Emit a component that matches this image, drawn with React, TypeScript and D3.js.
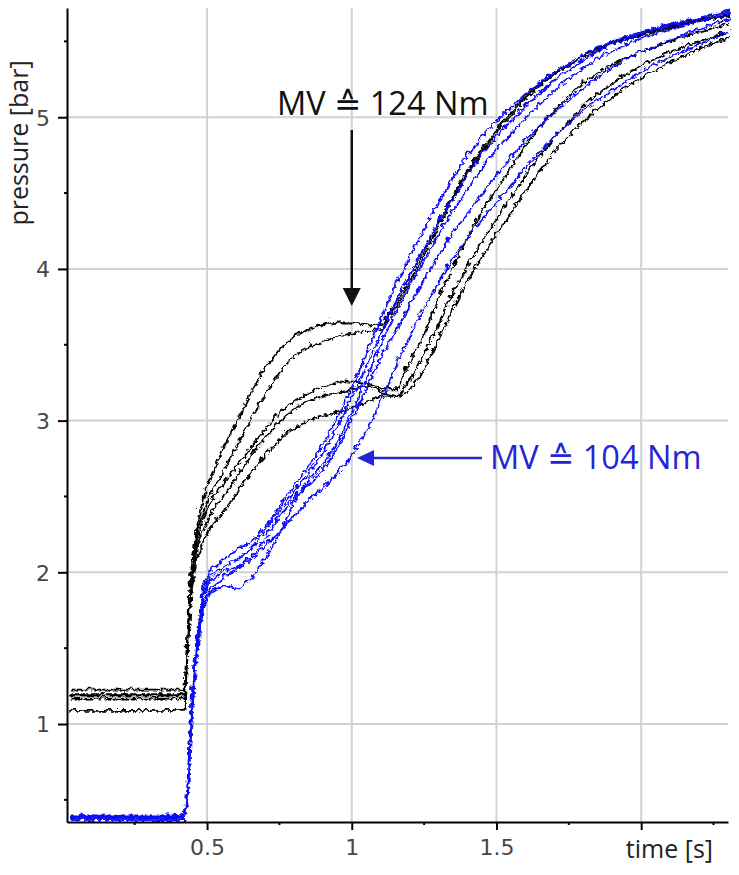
import React, { useEffect, useRef } from "react";
import * as d3 from "d3";

// sample times [s], shared by every trace
const times = [0.02, 0.415, 0.425, 0.44, 0.46, 0.48, 0.5, 0.55, 0.6, 0.65, 0.7, 0.75, 0.8, 0.85, 0.9, 0.95, 1.0, 1.05, 1.1, 1.15, 1.2, 1.25, 1.3, 1.35, 1.4, 1.45, 1.5, 1.6, 1.7, 1.8, 1.9, 2.0, 2.1, 2.2, 2.3];

// MV = 124 Nm traces (black), pressure [bar]
const black124A = [1.24, 1.24, 1.6, 2.05, 2.35, 2.5, 2.62, 2.84, 3.02, 3.22, 3.38, 3.5, 3.58, 3.62, 3.65, 3.66, 3.66, 3.64, 3.65, 3.82, 4.0, 4.17, 4.35, 4.52, 4.68, 4.82, 4.95, 5.17, 5.32, 5.43, 5.51, 5.57, 5.62, 5.66, 5.69];
const black124B = [1.21, 1.21, 1.55, 2.0, 2.3, 2.42, 2.52, 2.68, 2.86, 3.05, 3.2, 3.35, 3.45, 3.5, 3.54, 3.57, 3.59, 3.6, 3.62, 3.78, 3.96, 4.14, 4.32, 4.5, 4.66, 4.8, 4.93, 5.15, 5.31, 5.42, 5.5, 5.56, 5.61, 5.65, 5.68];
const black124C = [1.18, 1.18, 1.52, 1.98, 2.25, 2.38, 2.46, 2.6, 2.72, 2.85, 2.97, 3.08, 3.15, 3.2, 3.24, 3.27, 3.27, 3.26, 3.22, 3.22, 3.42, 3.62, 3.85, 4.05, 4.25, 4.42, 4.56, 4.85, 5.08, 5.25, 5.37, 5.45, 5.52, 5.58, 5.63];
const black124D = [1.2, 1.2, 1.5, 1.95, 2.2, 2.3, 2.38, 2.52, 2.65, 2.8, 2.92, 3.02, 3.1, 3.15, 3.18, 3.2, 3.22, 3.24, 3.2, 3.17, 3.3, 3.48, 3.68, 3.88, 4.06, 4.22, 4.36, 4.65, 4.9, 5.1, 5.25, 5.36, 5.45, 5.52, 5.58];
const black124E = [1.1, 1.1, 1.45, 1.9, 2.12, 2.22, 2.3, 2.42, 2.55, 2.68, 2.8, 2.9, 2.97, 3.02, 3.05, 3.07, 3.1, 3.14, 3.18, 3.17, 3.22, 3.38, 3.58, 3.78, 3.96, 4.12, 4.26, 4.55, 4.8, 5.0, 5.16, 5.28, 5.38, 5.47, 5.54];

// MV = 104 Nm traces (blue)
const blue104A = [0.4, 0.4, 0.6, 1.2, 1.65, 1.92, 2.02, 2.1, 2.17, 2.22, 2.32, 2.47, 2.6, 2.72, 2.88, 3.06, 3.26, 3.48, 3.72, 3.93, 4.12, 4.3, 4.48, 4.64, 4.78, 4.9, 5.0, 5.18, 5.32, 5.43, 5.52, 5.58, 5.63, 5.67, 5.72];
const blue104B = [0.38, 0.38, 0.55, 1.15, 1.6, 1.88, 1.98, 2.05, 2.1, 2.18, 2.3, 2.44, 2.56, 2.68, 2.82, 3.0, 3.2, 3.4, 3.62, 3.82, 4.0, 4.18, 4.35, 4.5, 4.65, 4.78, 4.9, 5.1, 5.27, 5.4, 5.5, 5.57, 5.62, 5.67, 5.71];
const blue104C = [0.4, 0.4, 0.5, 1.1, 1.55, 1.8, 1.88, 1.93, 1.9, 1.98, 2.12, 2.3, 2.5, 2.63, 2.74, 2.9, 3.1, 3.32, 3.55, 3.75, 3.93, 4.1, 4.27, 4.42, 4.56, 4.7, 4.82, 5.02, 5.2, 5.35, 5.46, 5.54, 5.6, 5.65, 5.7];
const blue104D = [0.39, 0.39, 0.5, 1.12, 1.58, 1.85, 1.95, 2.02, 2.05, 2.12, 2.25, 2.4, 2.52, 2.6, 2.7, 2.86, 3.05, 3.25, 3.45, 3.62, 3.8, 3.97, 4.12, 4.27, 4.4, 4.53, 4.65, 4.88, 5.06, 5.22, 5.35, 5.45, 5.53, 5.6, 5.66];
const blue104E = [0.41, 0.41, 0.48, 1.05, 1.5, 1.78, 1.9, 1.98, 2.04, 2.1, 2.2, 2.3, 2.4, 2.5, 2.58, 2.68, 2.8, 2.97, 3.17, 3.4, 3.6, 3.78, 3.95, 4.1, 4.24, 4.36, 4.46, 4.7, 4.9, 5.07, 5.2, 5.32, 5.42, 5.5, 5.58];

const blackSeries = [black124A, black124B, black124C, black124D, black124E];
const blueSeries = [blue104A, blue104B, blue104C, blue104D, blue104E];

const xMajor = [0.5, 1, 1.5, 2];
const xMinor = [0.25, 0.75, 1.25, 1.75, 2.25];
const xLabels = ["0.5", "1", "1.5", ""];
const yMajor = [1, 2, 3, 4, 5];
const yMinor = [0.5, 1.5, 2.5, 3.5, 4.5, 5.5];

const W = 739, H = 875;
const LEFT = 67, RIGHT = 728, TOP = 8, BOTTOM = 822;
const BLACK = "#000";
const BLUE = "#0a0af5";
const LABEL_FONT = "'Open Sans', 'DejaVu Sans', sans-serif";

export default function App() {
	const ref = useRef<SVGSVGElement>(null);

	const x = d3.scaleLinear().domain([0.016, 2.3]).range([LEFT, RIGHT]);
	const y = d3.scaleLinear().domain([0.354, 5.72]).range([BOTTOM, TOP]);

	useEffect(() => {
		const svg = d3.select(ref.current);

		const xAxis = d3.axisBottom(x)
			.tickValues(xMajor)
			.tickSize(8)
			.tickPadding(9)
			.tickSizeOuter(0)
			.tickFormat((d, i) => xLabels[i]);
		const yAxis = d3.axisLeft(y)
			.tickValues(yMajor)
			.tickSize(9)
			.tickPadding(8)
			.tickSizeOuter(0)
			.tickFormat(d3.format("d"));

		const gx = svg.select<SVGGElement>(".x.axis")
			.attr("transform", `translate(0, ${BOTTOM})`)
			.call(xAxis);
		const gy = svg.select<SVGGElement>(".y.axis")
			.attr("transform", `translate(${LEFT}, 0)`)
			.call(yAxis);

		[gx, gy].forEach(g => {
			g.attr("font-family", "'DejaVu Sans', sans-serif").attr("font-size", 22);
			g.select(".domain").attr("stroke", "#000").attr("stroke-width", 2);
			g.selectAll(".tick line").attr("stroke", "#000").attr("stroke-width", 2);
			g.selectAll(".tick text").attr("fill", "#474747");
		});
		gy.selectAll(".tick text").attr("dy", "0.36em");

		// minor ticks
		gx.selectAll(".minor").data(xMinor).join("line")
			.attr("class", "minor")
			.attr("x1", d => x(d)).attr("x2", d => x(d))
			.attr("y1", 0).attr("y2", 3)
			.attr("stroke", "#000").attr("stroke-width", 2);
		gy.selectAll(".minor").data(yMinor).join("line")
			.attr("class", "minor")
			.attr("y1", d => y(d)).attr("y2", d => y(d))
			.attr("x1", 0).attr("x2", -3)
			.attr("stroke", "#000").attr("stroke-width", 2);
	}, []);

	const line = d3.line<number>()
		.x((d, i) => x(times[i]))
		.y(d => y(d))
		.curve(d3.curveLinear);

	return (
		<div style={{ position: "absolute", left: 0, top: 0 }}>
			<svg ref={ref} width={W} height={H} style={{ display: "block", background: "#fff" }}>
				<defs>
					<filter id="jitter" filterUnits="userSpaceOnUse" x={0} y={0} width={W} height={H}>
						<feTurbulence type="turbulence" baseFrequency="0.14" numOctaves={1} seed={7} result="noise" />
						<feDisplacementMap in="SourceGraphic" in2="noise" scale={6} xChannelSelector="R" yChannelSelector="G" />
					</filter>
				</defs>

				<g className="grid">
					{xMajor.map(t => (
						<line key={"gx" + t} x1={x(t)} x2={x(t)} y1={TOP} y2={BOTTOM} stroke="#d2d2d2" strokeWidth={2} />
					))}
					{yMajor.map(p => (
						<line key={"gy" + p} x1={LEFT} x2={RIGHT} y1={y(p)} y2={y(p)} stroke="#d2d2d2" strokeWidth={2} />
					))}
				</g>

				<g className="traces" filter="url(#jitter)" fill="none" strokeWidth={1.8}>
					{blackSeries.map((s, i) => (
						<path key={"b" + i} d={line(s) || ""} stroke={BLACK} />
					))}
					{blueSeries.map((s, i) => (
						<path key={"u" + i} d={line(s) || ""} stroke={BLUE} />
					))}
				</g>

				<g className="x axis" />
				<g className="y axis" />

				<text x={RIGHT - 15} y={858} textAnchor="end" fontFamily={LABEL_FONT} fontSize={25} fill="#222">time [s]</text>
				<text transform={`translate(28, 143) rotate(-90)`} textAnchor="middle" fontFamily={LABEL_FONT} fontSize={25} fill="#222">pressure [bar]</text>

				{/* annotations */}
				<text x={277} y={115} fontFamily={LABEL_FONT} fontSize={32.5} fill="#111">MV ≙ 124 Nm</text>
				<line x1={x(1)} x2={x(1)} y1={130} y2={290} stroke="#111" strokeWidth={2.5} />
				<path d={`M${x(1) - 9},288 L${x(1) + 9},288 L${x(1)},306 Z`} fill="#111" />

				<text x={490} y={469} fontFamily={LABEL_FONT} fontSize={32.5} fill="#2525d6">MV ≙ 104 Nm</text>
				<line x1={482} x2={372} y1={458} y2={458} stroke="#2525d6" strokeWidth={2.5} />
				<path d={`M374,450 L374,466 L357,458 Z`} fill="#2525d6" />
			</svg>
		</div>
	);
}
